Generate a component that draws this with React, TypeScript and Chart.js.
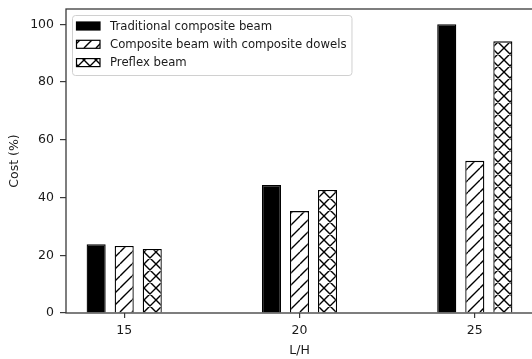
import React, { useEffect, useRef } from 'react';
import { Chart, registerables } from 'chart.js';
Chart.register(...registerables);

const LH = [15, 20, 25];
const TRADITIONAL = [23.8, 44.3, 100];
const DOWELS = [23.2, 35.3, 52.7];
const PREFLEX = [22.2, 42.6, 94.1];
const SERIES_LABELS = ['Traditional composite beam', 'Composite beam with composite dowels', 'Preflex beam'];
const X_TICKS = [15, 20, 25];
const Y_TICKS = [0, 20, 40, 60, 80, 100];
const X_TITLE = 'L/H';
const Y_TITLE = 'Cost (%)';

const FONT = '"DejaVu Sans", sans-serif';
const TEXT = '#1a1a1a';
const SPINE = '#3a3a3a';
const OFFSET = 0.8;

function makeHatch(kind: 'slash' | 'cross') {
  const s = 12;
  const c = document.createElement('canvas');
  c.width = s; c.height = s;
  const g = c.getContext('2d')!;
  g.fillStyle = '#fff';
  g.fillRect(0, 0, s, s);
  g.strokeStyle = '#000';
  g.lineWidth = 1.4;
  g.beginPath();
  for (const o of [-s, 0, s]) { g.moveTo(o, s); g.lineTo(o + s, 0); }
  if (kind === 'cross') for (const o of [-s, 0, s]) { g.moveTo(o, 0); g.lineTo(o + s, s); }
  g.stroke();
  return g.createPattern(c, 'repeat')!;
}

const framePlugin = {
  id: 'frame',
  afterDatasetsDraw(chart: any) {
    const { ctx, chartArea: a } = chart;
    ctx.save();
    ctx.strokeStyle = SPINE;
    ctx.lineWidth = 1.3;
    ctx.strokeRect(a.left, a.top, a.right - a.left, a.bottom - a.top);
    ctx.restore();
  },
};

const legendPlugin = {
  id: 'innerLegend',
  afterDraw(chart: any) {
    const { ctx } = chart;
    const ds = chart.data.datasets;
    const fs = 11.7;
    ctx.save();
    ctx.font = `${fs}px ${FONT}`;
    let maxW = 0;
    ds.forEach((d: any) => { maxW = Math.max(maxW, ctx.measureText(d.label).width); });
    const x0 = 72, y0 = 15;
    const textX = 110;
    const w = textX + maxW + 5 - x0;
    const h = 60;
    ctx.beginPath();
    (ctx as any).roundRect(x0 + 0.5, y0 + 0.5, w, h, 3);
    ctx.fillStyle = 'rgba(255,255,255,0.85)';
    ctx.fill();
    ctx.strokeStyle = '#d0d0d0';
    ctx.lineWidth = 1;
    ctx.stroke();
    ds.forEach((d: any, i: number) => {
      const cy = 26 + i * 18.3;
      ctx.fillStyle = d.backgroundColor;
      ctx.fillRect(76.5, cy - 4, 23.5, 8);
      ctx.strokeStyle = '#000';
      ctx.lineWidth = 1.2;
      ctx.strokeRect(76.5, cy - 4, 23.5, 8);
      ctx.fillStyle = TEXT;
      ctx.textBaseline = 'middle';
      ctx.textAlign = 'left';
      ctx.fillText(d.label, textX, cy + 0.5);
    });
    ctx.restore();
  },
};

export default function App() {
  const ref = useRef<HTMLCanvasElement>(null);
  useEffect(() => {
    const slash = makeHatch('slash');
    const cross = makeHatch('cross');
    const mk = (vals: number[], off: number) => LH.map((x, i) => ({ x: x + off, y: vals[i] }));
    const chart = new Chart(ref.current!, {
      type: 'bar',
      data: {
        datasets: [
          { label: SERIES_LABELS[0], data: mk(TRADITIONAL, -OFFSET), backgroundColor: '#000', borderColor: '#000', borderWidth: 1.3 },
          { label: SERIES_LABELS[1], data: mk(DOWELS, 0), backgroundColor: slash as any, borderColor: '#000', borderWidth: 1.3 },
          { label: SERIES_LABELS[2], data: mk(PREFLEX, OFFSET), backgroundColor: cross as any, borderColor: '#000', borderWidth: 1.3 },
        ],
      },
      options: {
        responsive: false,
        animation: false,
        layout: { padding: { top: 9, right: 7, left: 0, bottom: 0 } },
        plugins: { legend: { display: false }, tooltip: { enabled: false } },
        datasets: { bar: { grouped: false, categoryPercentage: 1, barPercentage: 0.68 } },
        scales: {
          x: {
            type: 'linear',
            min: 13.34,
            max: 26.66,
            offset: false,
            afterBuildTicks: (s: any) => { s.ticks = X_TICKS.map(v => ({ value: v })); },
            afterFit: (s: any) => { s.height = 46; s.paddingLeft = 0; s.paddingRight = 0; },
            grid: { offset: false, drawOnChartArea: false, drawTicks: true, tickLength: 5, color: SPINE, lineWidth: 1.2 },
            border: { display: false },
            ticks: { font: { family: FONT, size: 12.5 }, color: TEXT, padding: 5, maxRotation: 0 },
            title: { display: true, text: X_TITLE, font: { family: FONT, size: 12.5 }, color: TEXT, padding: { top: 0, bottom: 1 } },
          },
          y: {
            type: 'linear',
            min: 0,
            max: 105.3,
            afterBuildTicks: (s: any) => { s.ticks = Y_TICKS.map(v => ({ value: v })); },
            afterFit: (s: any) => { s.width = 66; s.paddingTop = 0; s.paddingBottom = 0; },
            grid: { drawOnChartArea: false, drawTicks: true, tickLength: 6, color: SPINE, lineWidth: 1.2 },
            border: { display: false },
            ticks: { font: { family: FONT, size: 12.5 }, color: TEXT, padding: 6 },
            title: { display: true, text: Y_TITLE, font: { family: FONT, size: 12.5 }, color: TEXT, padding: { top: 7, bottom: 0 } },
          },
        },
      },
      plugins: [framePlugin, legendPlugin],
    } as any);
    return () => chart.destroy();
  }, []);
  return (
    <div style={{ position: 'fixed', left: 0, top: 0, width: 532, height: 359, overflow: 'hidden', background: '#fff' }}>
      <canvas ref={ref} width={540} height={359} style={{ display: 'block', width: 540, height: 359 }} />
    </div>
  );
}
